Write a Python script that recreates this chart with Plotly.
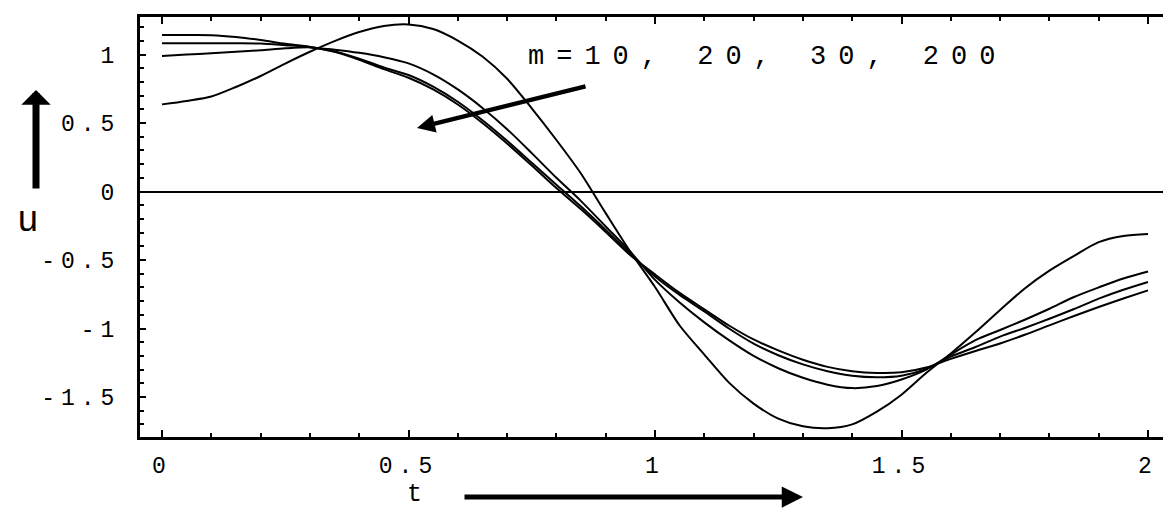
import plotly.graph_objects as go

# ---------------- data ----------------
t = [0.00, 0.05, 0.10, 0.15, 0.20, 0.25, 0.30, 0.35, 0.40, 0.45,
     0.50, 0.55, 0.60, 0.65, 0.70, 0.75, 0.80, 0.85, 0.90, 0.95,
     1.00, 1.05, 1.10, 1.15, 1.20, 1.25, 1.30, 1.35, 1.40, 1.45,
     1.50, 1.55, 1.60, 1.65, 1.70, 1.75, 1.80, 1.85, 1.90, 1.95, 2.00]

u_m10 = [0.636, 0.661, 0.693, 0.763, 0.843, 0.934, 1.020, 1.098, 1.164, 1.208,
         1.219, 1.186, 1.102, 0.985, 0.823, 0.607, 0.376, 0.130, -0.158, -0.440,
         -0.697, -0.978, -1.190, -1.395, -1.548, -1.658, -1.714, -1.728, -1.700, -1.607,
         -1.483, -1.325, -1.183, -1.028, -0.865, -0.708, -0.578, -0.470, -0.370, -0.325, -0.310]

u_m20 = [0.989, 1.000, 1.009, 1.020, 1.031, 1.045, 1.052, 1.035, 1.012, 0.980,
         0.935, 0.855, 0.745, 0.610, 0.455, 0.280, 0.100, -0.070, -0.255, -0.440,
         -0.645, -0.810, -0.955, -1.085, -1.200, -1.290, -1.360, -1.410, -1.435, -1.420,
         -1.372, -1.300, -1.190, -1.085, -1.011, -0.936, -0.856, -0.770, -0.700, -0.635, -0.584]

u_m30 = [1.083, 1.082, 1.082, 1.082, 1.080, 1.068, 1.055, 1.022, 0.970, 0.905,
         0.850, 0.765, 0.655, 0.520, 0.370, 0.210, 0.050, -0.110, -0.280, -0.455,
         -0.620, -0.755, -0.875, -1.000, -1.110, -1.195, -1.262, -1.312, -1.345, -1.356,
         -1.345, -1.295, -1.205, -1.135, -1.059, -0.996, -0.929, -0.858, -0.782, -0.717, -0.660]

u_m200 = [1.142, 1.142, 1.141, 1.128, 1.106, 1.078, 1.055, 1.020, 0.962, 0.893,
          0.830, 0.745, 0.635, 0.500, 0.350, 0.190, 0.025, -0.130, -0.295, -0.465,
          -0.605, -0.740, -0.860, -0.978, -1.080, -1.160, -1.228, -1.280, -1.312, -1.325,
          -1.320, -1.285, -1.222, -1.164, -1.109, -1.046, -0.977, -0.909, -0.843, -0.781, -0.722]

x_tick_vals = [0, 0.5, 1, 1.5, 2]
x_tick_text = ["0", "0.5", "1", "1.5", "2"]
y_tick_vals = [-1.5, -1, -0.5, 0, 0.5, 1]
y_tick_text = ["-1.5", "-1", "-0.5", "0", "0.5", "1"]
x_minor = [i / 10 for i in range(0, 21)]
y_minor = [i / 10 for i in range(-17, 13)]

series_label = "m=10, 20, 30, 200"
x_title = "t"
y_title = "u"

# ---------------- figure ----------------
W, H = 1163, 509
ML, MR, MT, MB = 140, 0, 17, 72
PW, PH = W - ML - MR, H - MT - MB
MONO = "Liberation Mono, Courier New, monospace"


def px(x):
    return (x - ML) / PW


def py(y):
    return (H - MB - y) / PH


def spaced(s, sp):
    return '<span style="letter-spacing:%dpx">%s</span>' % (sp, s)


fig = go.Figure()
for name, u in [("m=10", u_m10), ("m=20", u_m20), ("m=30", u_m30), ("m=200", u_m200)]:
    fig.add_trace(go.Scatter(x=t, y=u, mode="lines", name=name,
                             line=dict(color="black", width=2, shape="spline", smoothing=0.8),
                             showlegend=False, hoverinfo="skip"))

fig.update_layout(
    width=W, height=H,
    margin=dict(l=ML, r=MR, t=MT, b=MB, pad=0),
    paper_bgcolor="white", plot_bgcolor="white",
    showlegend=False,
)

fig.update_xaxes(
    range=[(ML - 162) / 493, (W - MR - 162) / 493],
    showline=True, linecolor="black", linewidth=3, mirror="allticks",
    ticks="inside", ticklen=7, tickwidth=2, tickcolor="black",
    tickmode="array", tickvals=x_tick_vals,
    ticktext=[spaced(s, 6) for s in x_tick_text],
    tickfont=dict(family=MONO, size=23, color="black"),
    ticklabelstandoff=5,
    minor=dict(tickmode="array", tickvals=x_minor, ticks="inside", ticklen=4,
               tickwidth=2, tickcolor="black"),
    showgrid=False, zeroline=False,
)
fig.update_yaxes(
    range=[(191.5 - (H - MB)) / 137, (191.5 - MT) / 137],
    showline=True, linecolor="black", linewidth=3, mirror=False,
    ticks="inside", ticklen=6, tickwidth=2, tickcolor="black",
    tickmode="array", tickvals=y_tick_vals,
    ticktext=[spaced(s, 6) for s in y_tick_text],
    tickfont=dict(family=MONO, size=23, color="black"),
    ticklabelstandoff=12,
    minor=dict(tickmode="array", tickvals=y_minor, ticks="inside", ticklen=4,
               tickwidth=2, tickcolor="black"),
    showgrid=False, zeroline=True, zerolinecolor="black", zerolinewidth=2,
)

anns = []
# series label
anns.append(dict(xref="paper", yref="paper", x=px(526), y=py(57), xanchor="left", yanchor="middle",
                 text=spaced(series_label, 12), showarrow=False,
                 font=dict(family=MONO, size=27, color="black")))
# axis titles
anns.append(dict(xref="paper", yref="paper", x=px(28), y=py(221), xanchor="center", yanchor="middle",
                 text=y_title, showarrow=False, font=dict(family=MONO, size=36, color="black")))
anns.append(dict(xref="paper", yref="paper", x=px(414), y=py(494), xanchor="center", yanchor="middle",
                 text=x_title, showarrow=False, font=dict(family=MONO, size=25, color="black")))


def arrow(tail, tip, width, size, head):
    return dict(xref="paper", yref="paper", x=px(tip[0]), y=py(tip[1]),
                ax=tail[0] - tip[0], ay=tail[1] - tip[1], text="", showarrow=True,
                arrowhead=head, arrowwidth=width, arrowsize=size, arrowcolor="black",
                standoff=0, startstandoff=0)


anns.append(arrow((36, 190), (36, 90), 7, 0.7, 1))
anns.append(arrow((463, 497), (803, 497), 5, 0.85, 2))
anns.append(arrow((587, 86), (417, 128), 4.5, 0.8, 2))
fig.update_layout(annotations=anns)

fig.write_html("out.html", config={"displayModeBar": False},
               post_script="document.body.style.margin='0';")
